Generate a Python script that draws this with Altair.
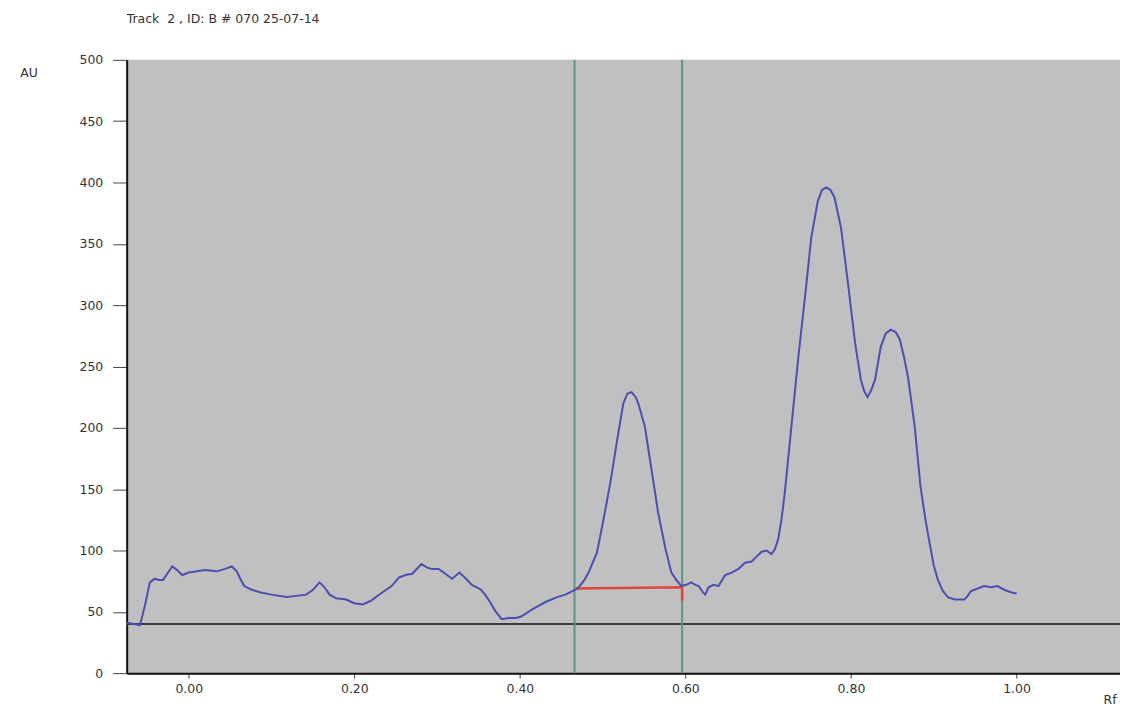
import altair as alt
import pandas as pd

# ---- data ----
rf = [-0.075, -0.066, -0.059, -0.053, -0.047, -0.041, -0.036, -0.031, -0.025, -0.020,
      -0.014, -0.008, 0.000, 0.010, 0.020, 0.034, 0.044, 0.052, 0.058, 0.063,
      0.067, 0.076, 0.086, 0.100, 0.118, 0.130, 0.142, 0.150, 0.158, 0.164,
      0.170, 0.178, 0.190, 0.200, 0.210, 0.220, 0.234, 0.245, 0.254, 0.262,
      0.270, 0.281, 0.288, 0.294, 0.302, 0.310, 0.318, 0.327, 0.335, 0.342,
      0.348, 0.353, 0.358, 0.363, 0.370, 0.378, 0.386, 0.395, 0.401, 0.415,
      0.431, 0.445, 0.455, 0.467, 0.471, 0.477, 0.483, 0.493, 0.501, 0.510,
      0.517, 0.525, 0.530, 0.535, 0.540, 0.543, 0.551, 0.559, 0.567, 0.576,
      0.583, 0.589, 0.595, 0.601, 0.607, 0.612, 0.616, 0.621, 0.624, 0.628,
      0.634, 0.640, 0.648, 0.656, 0.664, 0.672, 0.680, 0.686, 0.692, 0.698,
      0.704, 0.708, 0.712, 0.716, 0.720, 0.728, 0.736, 0.745, 0.752, 0.760,
      0.765, 0.770, 0.775, 0.780, 0.788, 0.796, 0.805, 0.812, 0.816, 0.820,
      0.824, 0.829, 0.836, 0.842, 0.848, 0.854, 0.859, 0.864, 0.869, 0.877,
      0.884, 0.890, 0.895, 0.900, 0.905, 0.911, 0.917, 0.925, 0.937, 0.941,
      0.945, 0.953, 0.961, 0.969, 0.977, 0.985, 0.993, 1.000]
au = [41, 40, 39, 55, 74, 77, 76, 76, 82, 87,
      84, 80, 82, 83, 84, 83, 85, 87, 83, 76,
      71, 68, 66, 64, 62, 63, 64, 68, 74, 70,
      64, 61, 60, 57, 56, 59, 66, 71, 78, 80,
      81, 89, 86, 85, 85, 81, 77, 82, 77, 72,
      70, 68, 64, 59, 51, 44, 45, 45, 46, 52,
      58, 62, 64, 68, 70, 75, 82, 98, 125, 158,
      188, 220, 228, 229, 225, 220, 201, 166, 131, 101,
      82, 76, 71, 72, 74, 72, 71, 66, 64, 70,
      72, 71, 80, 82, 85, 90, 91, 95, 99, 100,
      97, 101, 109, 125, 147, 201, 255, 310, 355, 385,
      394, 396, 394, 388, 363, 320, 269, 239, 230, 225,
      230, 239, 266, 277, 280, 278, 272, 258, 241, 201,
      152, 125, 106, 88, 76, 67, 62, 60, 60, 63,
      67, 69, 71, 70, 71, 68, 66, 65]

baseline_au = [40]
marker_rf = [0.466, 0.596]
peak_base_rf = [0.467, 0.596, 0.596]
peak_base_au = [69, 70, 59]

x_ticks = [0.0, 0.2, 0.4, 0.6, 0.8, 1.0]
y_ticks = [0, 50, 100, 150, 200, 250, 300, 350, 400, 450, 500]

title_text = "Track\u00a0\u00a02 , ID: B # 070 25-07-14"

FONT = "DejaVu Sans"

trace = pd.DataFrame({"rf": rf, "au": au, "i": range(len(rf))})
markers = pd.DataFrame({"rf": marker_rf})
base = pd.DataFrame({"rf": peak_base_rf, "au": peak_base_au, "i": range(3)})
hline = pd.DataFrame({"au": baseline_au})

xs = alt.Scale(domain=[-0.075, 1.125], nice=False, zero=False)
ys = alt.Scale(domain=[0, 500], nice=False)

x_axis = alt.Axis(values=x_ticks, format=".2f", title=None, grid=False,
                  tickSize=5, labelPadding=4, domainColor="#111", domainWidth=2,
                  tickColor="#444", labelColor="#333", labelFont=FONT, labelFontSize=12.5)
y_axis = alt.Axis(values=y_ticks, title=None, grid=False,
                  tickSize=14, labelPadding=10, domainColor="#111", domainWidth=2,
                  tickColor="#444", labelColor="#333", labelFont=FONT, labelFontSize=12.5)

hrule = alt.Chart(hline).mark_rule(color="#3a3a3a", strokeWidth=2).encode(
    y=alt.Y("au:Q", scale=ys, axis=y_axis)
)

vrules = alt.Chart(markers).mark_rule(color="#5e9488", strokeWidth=2).encode(
    x=alt.X("rf:Q", scale=xs, axis=x_axis)
)

redline = alt.Chart(base).mark_line(color="#e2453c", strokeWidth=2.5).encode(
    x=alt.X("rf:Q", scale=xs, axis=x_axis),
    y=alt.Y("au:Q", scale=ys, axis=y_axis),
    order="i:Q",
)

line = alt.Chart(trace).mark_line(color="#4b50b0", strokeWidth=2).encode(
    x=alt.X("rf:Q", scale=xs, axis=x_axis),
    y=alt.Y("au:Q", scale=ys, axis=y_axis),
    order="i:Q",
)

au_label = alt.Chart(pd.DataFrame({"t": ["AU"]})).mark_text(
    font=FONT, fontSize=12.5, color="#333", align="center", baseline="middle"
).encode(text="t:N", x=alt.value(-98), y=alt.value(13))

rf_label = alt.Chart(pd.DataFrame({"t": ["Rf"]})).mark_text(
    font=FONT, fontSize=12.5, color="#333", align="center", baseline="middle"
).encode(text="t:N", x=alt.value(986), y=alt.value(642))

chart = alt.layer(hrule, vrules, redline, line, au_label, rf_label).properties(
    width=996,
    height=615,
    title=alt.TitleParams(title_text, anchor="start", frame="group", offset=28, font=FONT,
                          fontSize=12.5, fontWeight="normal", color="#333"),
    padding={"left": 119, "top": 51, "right": 0, "bottom": 36},
    autosize="none",
    background="white",
).configure_view(fill="#c0c0c0", stroke=None)

chart.save("out.html", embed_options={"renderer": "svg", "actions": False})
